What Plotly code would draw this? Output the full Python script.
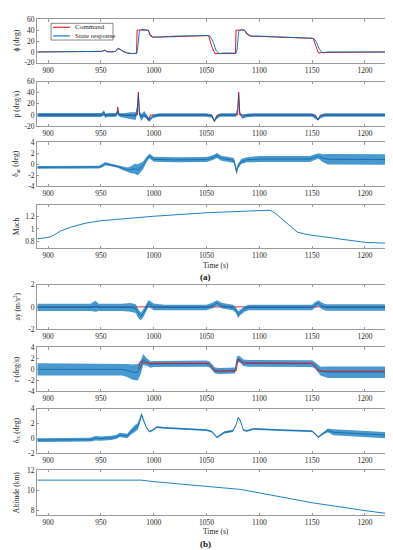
import plotly.graph_objects as go

# ---------------- DATA ----------------
# Panel 1: roll angle phi (deg)
t_phi = [890, 948, 951, 953.5, 956, 960, 964, 966, 968, 971, 975, 980, 984, 985, 986.5, 988, 992, 995, 997, 999,
         1002, 1020, 1050, 1053, 1056, 1059, 1062, 1066, 1078, 1079, 1080.5, 1083, 1086, 1089, 1092, 1100, 1150,
         1152, 1154, 1157, 1160, 1165, 1229]
phi_state = [0, 0, 1, 3, 0.5, 0, 1, 6, 5, 1, -2, -3, -2.5, 10, 38, 41, 41, 39, 32, 28,
             27, 29, 31, 30, 20, 3, -3, -2, -2, 5, 38, 41, 40, 33, 29, 29, 25,
             24, 18, 5, -2, 0, 0]
t_phi_cmd = [890, 948, 951, 953.5, 956, 960, 964, 966, 968, 971, 975, 980, 983.8, 984.3, 995, 996.5, 999, 1002,
             1050, 1052, 1055, 1058, 1060, 1077.5, 1078, 1086, 1088, 1091, 1150, 1151, 1156, 1159, 1229]
phi_cmd = [0, 0, 1, 3, 0.5, 0, 1, 6, 5, 1, -2, -3, -2.5, 40, 40, 30, 27, 27,
           31, 30, 10, -3, -3, -3, 40, 40, 33, 29, 25, 25, -2, -1, 0]

# Panel 2: roll rate p (deg/s)
t_p = [890, 950, 952, 953, 954, 956, 964, 965.5, 966, 966.5, 968, 972, 978, 983, 984.5, 985.5, 986.5, 988, 991,
       994, 996, 999, 1005, 1050, 1055, 1057.5, 1060, 1063, 1078, 1079.5, 1080.5, 1081.5, 1084, 1088, 1095, 1150,
       1153, 1155.5, 1158, 1162, 1229]
p_state = [0, 0, 2, 5, -2, 0, 0, 3, 8, 2, 0, -1, -1, -2, 12, 36, 5, -5, 2,
           -5, -9, -3, 0, 0, -2, -10, -4, 0, 0, 10, 36, 4, -4, -1, 0, 0,
           -3, -8, -3, 0, 0]
p_amp = [3.5, 3.5, 4, 4, 4, 3.5, 3.5, 3.5, 3, 3, 3.5, 4, 6, 7, 7, 5, 7, 6, 5,
         4, 3, 3, 3, 3, 3, 2, 3, 3, 3, 2, 1, 2, 3, 3, 3, 3,
         3, 2, 3, 3, 3]
t_p_cmd = [890, 965, 966, 967, 984.5, 985.5, 986.5, 993, 995, 997, 1055, 1057.5, 1060, 1079.5, 1080.5, 1081.5,
           1153, 1155.5, 1158, 1229]
p_cmd = [0, 0, 14, 0, 0, 41, 0, -3, -10, 0, 0, -12, 0, 0, 41, 0,
         0, -9, 0, 0]

# Panel 3: aileron command delta_ac (deg)
t_ac = [890, 948, 951, 954, 957, 962, 966, 970, 975, 978, 982, 985, 987, 990, 993, 996, 1000, 1020, 1050, 1056,
        1060, 1064, 1070, 1076, 1078.5, 1080, 1083, 1088, 1100, 1148, 1153, 1156, 1160, 1165, 1229]
ac_mid = [-0.55, -0.5, -0.3, 0.1, 0.0, -0.2, -0.4, -0.7, -1.0, -1.0, -0.8, -1.0, -0.7, -0.2, 0.8, 1.5, 0.9, 0.8,
          0.85, 1.2, 1.6, 1.1, 0.9, 0.7, -1.3, -0.3, 0.5, 0.8, 0.95, 0.95, 1.3, 1.5, 1.1, 0.9, 0.85]
ac_amp = [0.25, 0.25, 0.3, 0.3, 0.25, 0.25, 0.25, 0.3, 0.4, 0.6, 0.9, 1.0, 0.9, 0.7, 0.5, 0.4, 0.45, 0.45,
          0.45, 0.45, 0.45, 0.45, 0.45, 0.45, 0.6, 0.45, 0.45, 0.45, 0.55, 0.55, 0.5, 0.5, 0.7, 0.95, 0.95]

# Panel 4: Mach
t_mach = [890, 901, 905, 912, 922, 935, 950, 975, 1000, 1050, 1110, 1115, 1125, 1136, 1146, 1168, 1200, 1229]
mach = [0.845, 0.87, 0.9, 0.97, 1.03, 1.09, 1.13, 1.17, 1.2, 1.255, 1.295, 1.25, 1.1, 0.95, 0.91, 0.86, 0.79, 0.77]

# Panel 5: lateral acceleration ay (m/s^2)
t_ay = [890, 940, 945, 948, 955, 970, 978, 983, 986, 988, 990, 993, 995, 997, 1000, 1010, 1050, 1055, 1060, 1065,
        1075, 1078, 1080, 1082, 1086, 1090, 1150, 1153, 1156, 1159, 1163, 1229]
ay_mid = [-0.05, -0.05, 0.05, -0.05, -0.05, -0.05, -0.05, -0.15, -0.7, -0.85, -0.6, -0.1, 0.3, 0.2, 0, -0.05,
          -0.05, 0.1, 0.35, 0.1, -0.05, -0.3, -0.7, -0.5, -0.2, -0.05, -0.05, 0.2, 0.35, 0.1, -0.05, -0.05]
ay_amp = [0.33, 0.33, 0.5, 0.33, 0.33, 0.33, 0.4, 0.4, 0.4, 0.35, 0.35, 0.3, 0.3, 0.3, 0.3, 0.25,
          0.25, 0.25, 0.25, 0.25, 0.25, 0.25, 0.3, 0.25, 0.25, 0.25, 0.25, 0.25, 0.25, 0.3, 0.3, 0.3]
t_ay_cmd = [890, 1229]
ay_cmd = [0, 0]

# Panel 6: yaw rate r (deg/s)
t_r = [890, 970, 975, 980, 985, 988, 990, 993, 997, 1000, 1050, 1053, 1058, 1062, 1077, 1079, 1081, 1085, 1090,
       1150, 1153, 1158, 1165, 1229]
r_mid = [0, 0, -0.2, -0.5, -0.5, 0.5, 1.8, 1.4, 0.9, 1.0, 1.05, 0.9, -0.2, -0.3, -0.2, 1.8, 1.9, 1.2, 1.1,
         1.05, 0.7, -0.3, -0.5, -0.5]
r_amp = [1.1, 1.1, 1.2, 1.4, 1.5, 1.2, 1.0, 0.7, 0.6, 0.55, 0.55, 0.55, 0.55, 0.55, 0.55, 0.6, 0.6, 0.6, 0.6,
         0.6, 0.6, 0.8, 1.05, 1.05]
t_r_cmd = [985, 988, 990, 995, 1052, 1058, 1078, 1080, 1085, 1150, 1156, 1229]
r_cmd = [0, 1.5, 1.3, 1.1, 1.1, -0.3, -0.3, 1.8, 1.2, 1.1, -0.3, -0.3]

# Panel 7: rudder command delta_rc (deg)
t_rc = [890, 940, 945, 950, 960, 965, 968, 975, 978, 982, 985, 987, 988.5, 990, 993, 996, 999, 1003, 1010, 1030,
        1050, 1055, 1060, 1063, 1067, 1075, 1078, 1080, 1082, 1085, 1088, 1095, 1100, 1120, 1150, 1153, 1156, 1160,
        1165, 1170, 1200, 1229]
rc_mid = [-0.25, -0.2, 0.0, -0.05, 0.05, 0.2, 0.45, 0.3, 0.8, 1.3, 1.6, 2.4, 3.2, 2.6, 1.5, 0.9, 1.1, 1.5, 1.4,
          1.25, 1.1, 0.9, 0.1, 0.4, 0.8, 1.0, 1.8, 2.8, 2.4, 1.1, 1.0, 1.25, 1.2, 1.1, 0.95, 0.6, 0.15, 0.6,
          1.05, 0.8, 0.6, 0.35]
rc_amp = [0.25, 0.25, 0.3, 0.28, 0.28, 0.28, 0.28, 0.3, 0.35, 0.45, 0.45, 0.35, 0.25, 0.2, 0.12, 0.12, 0.12, 0.12,
          0.12, 0.12, 0.12, 0.12, 0.12, 0.12, 0.15, 0.15, 0.12, 0.12, 0.12, 0.12, 0.12, 0.12, 0.12, 0.12, 0.12,
          0.12, 0.12, 0.15, 0.25, 0.4, 0.42, 0.42]

# Panel 8: Altitude (km)
t_alt = [890, 988, 1000, 1042, 1083, 1099, 1150, 1200, 1229]
alt = [11.0, 11.0, 10.85, 10.47, 10.07, 9.75, 8.75, 7.97, 7.57]

# Axis ticks / labels
x_ticks = [900, 950, 1000, 1050, 1100, 1150, 1200]
ylabels = ["ϕ (deg)", "p (deg/s)", "δ<sub>ac</sub> (deg)", "Mach",
           "ay (m/s<sup>2</sup>)", "r (deg/s)", "δ<sub>rc</sub> (deg)", "Altitude (km)"]
yticks = [[-20, 0, 20, 40, 60], [-20, 0, 20, 40, 60], [-4, -2, 0, 2, 4], [0.8, 1, 1.2],
          [-2, 0, 2], [-4, -2, 0, 2, 4], [-2, 0, 2, 4], [8, 10, 12]]
yranges = [[-20, 60], [-20, 60], [-4, 4], [0.7, 1.38], [-2, 2], [-4, 4], [-2, 4], [7.5, 12]]

# ---------------- STYLE ----------------
W, H = 393, 550
BLUE = "#0072BD"
BAND = "rgba(0,114,189,0.72)"
MID = "rgba(0,90,160,0.9)"
RED = "#E8141B"
FONT = "Liberation Serif"
TXT = "#262626"
BOX = "#9a9a9a"
panels_px = [(7.3, 51.7), (70.7, 116), (132.3, 177.3), (196, 240),
             (277.3, 322.3), (341, 385.7), (403.3, 448.3), (465.7, 511.7)]
x_left, x_right = 29, 387.5

fig = go.Figure()


def ax(i):
    return ("x" if i == 1 else f"x{i}"), ("y" if i == 1 else f"y{i}")


def line(i, x, y, color, width=1.0):
    xa, ya = ax(i)
    fig.add_trace(go.Scatter(x=x, y=y, mode="lines", line=dict(color=color, width=width),
                             xaxis=xa, yaxis=ya, showlegend=False, hoverinfo="skip"))


def band(i, t, mid, amp):
    xa, ya = ax(i)
    lo = [m - a for m, a in zip(mid, amp)]
    hi = [m + a for m, a in zip(mid, amp)]
    fig.add_trace(go.Scatter(x=t, y=lo, mode="lines", line=dict(width=0, color=BAND),
                             xaxis=xa, yaxis=ya, showlegend=False, hoverinfo="skip"))
    fig.add_trace(go.Scatter(x=t, y=hi, mode="lines", line=dict(width=0, color=BAND), fill="tonexty",
                             fillcolor=BAND, xaxis=xa, yaxis=ya, showlegend=False, hoverinfo="skip"))
    fig.add_trace(go.Scatter(x=t, y=mid, mode="lines", line=dict(width=0.7, color=MID),
                             xaxis=xa, yaxis=ya, showlegend=False, hoverinfo="skip"))


# Panel 1
line(1, t_phi_cmd, phi_cmd, RED, 1.0)
line(1, t_phi, phi_state, BLUE, 0.9)
# Panel 2
line(2, t_p_cmd, p_cmd, RED, 1.0)
band(2, t_p, p_state, p_amp)
# Panel 3
band(3, t_ac, ac_mid, ac_amp)
# Panel 4
line(4, t_mach, mach, BLUE, 0.9)
# Panel 5
line(5, t_ay_cmd, ay_cmd, RED, 0.9)
band(5, t_ay, ay_mid, ay_amp)
# Panel 6
band(6, t_r, r_mid, r_amp)
line(6, t_r_cmd, r_cmd, RED, 0.9)
# Panel 7
band(7, t_rc, rc_mid, rc_amp)
# Panel 8
line(8, t_alt, alt, BLUE, 0.9)

layout = dict(width=W, height=H, margin=dict(l=0, r=0, t=0, b=0),
              paper_bgcolor="white", plot_bgcolor="white",
              font=dict(family=FONT, color=TXT, size=7.5), showlegend=False)
annotations = []
shapes = []
for i in range(1, 9):
    top, bot = panels_px[i - 1]
    xk = "xaxis" if i == 1 else f"xaxis{i}"
    yk = "yaxis" if i == 1 else f"yaxis{i}"
    xa, ya = ax(i)
    layout[xk] = dict(domain=[x_left / W, x_right / W], anchor=ya, range=[889.5, 1229],
                      tickvals=x_ticks, ticks="inside", ticklen=2.5, tickwidth=0.7, tickcolor=BOX,
                      showline=True, linecolor=BOX, linewidth=0.8, mirror="ticks",
                      showgrid=False, zeroline=False, tickfont=dict(size=7.5, family=FONT, color=TXT))
    yt = yticks[i - 1]
    layout[yk] = dict(domain=[1 - bot / H, 1 - top / H], anchor=xa, range=yranges[i - 1],
                      tickvals=yt, ticktext=[str(v) for v in yt], ticks="inside", ticklen=2.5, tickwidth=0.7,
                      tickcolor=BOX, showline=True, linecolor=BOX, linewidth=0.8, mirror="ticks",
                      showgrid=False, zeroline=False, tickfont=dict(size=7.5, family=FONT, color=TXT))
    annotations.append(dict(text=ylabels[i - 1], x=8.5 / W, y=1 - (top + bot) / 2 / H, xref="paper",
                            yref="paper", textangle=-90, showarrow=False, xanchor="center", yanchor="middle",
                            font=dict(size=7.5, family=FONT, color=TXT)))

# Time labels and panel captions
for ypx in (258, 528):
    annotations.append(dict(text="Time (s)", x=208 / W, y=1 - ypx / H, xref="paper", yref="paper",
                            showarrow=False, xanchor="center", yanchor="middle",
                            font=dict(size=7.5, family=FONT, color=TXT)))
for txt, ypx in (("<b>(a)</b>", 269.5), ("<b>(b)</b>", 540.5)):
    annotations.append(dict(text=txt, x=198 / W, y=1 - ypx / H, xref="paper", yref="paper",
                            showarrow=False, xanchor="center", yanchor="middle",
                            font=dict(size=9, family=FONT, color="#111")))

# Legend (panel 1)
shapes.append(dict(type="rect", xref="paper", yref="paper", x0=43 / W, x1=105 / W,
                   y0=1 - 28.5 / H, y1=1 - 11.5 / H, line=dict(color="#333", width=0.6), fillcolor="white"))
shapes.append(dict(type="line", xref="paper", yref="paper", x0=45 / W, x1=62 / W,
                   y0=1 - 15.5 / H, y1=1 - 15.5 / H, line=dict(color=RED, width=1.1)))
shapes.append(dict(type="line", xref="paper", yref="paper", x0=45 / W, x1=62 / W,
                   y0=1 - 24.3 / H, y1=1 - 24.3 / H, line=dict(color=BLUE, width=1.1)))
annotations.append(dict(text="Command", x=64.5 / W, y=1 - 15.5 / H, xref="paper", yref="paper",
                        showarrow=False, xanchor="left", yanchor="middle",
                        font=dict(size=7, family=FONT, color=TXT)))
annotations.append(dict(text="State response", x=64.5 / W, y=1 - 24.3 / H, xref="paper", yref="paper",
                        showarrow=False, xanchor="left", yanchor="middle",
                        font=dict(size=7, family=FONT, color=TXT)))

layout["annotations"] = annotations
layout["shapes"] = shapes
fig.update_layout(**layout)
fig.write_html("out.html")
